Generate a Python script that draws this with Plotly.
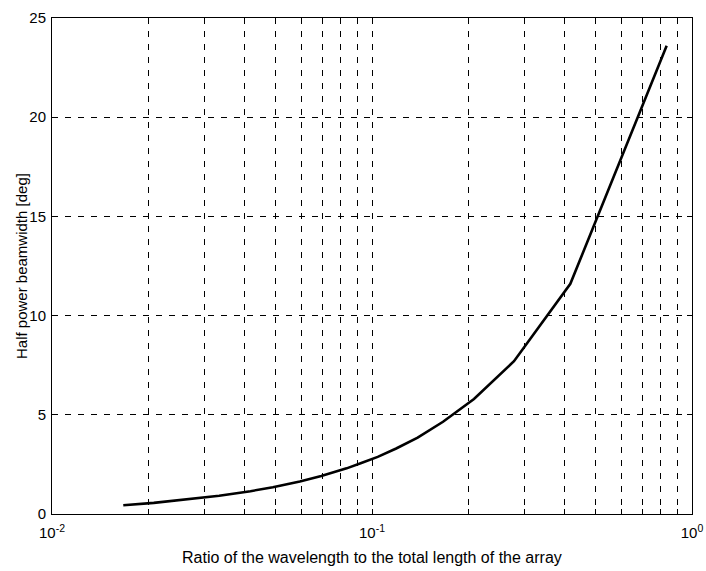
import plotly.graph_objects as go

# Ratio of wavelength to total array length (x) and half-power beamwidth in degrees (y)
ratio = [0.8333, 0.4167, 0.2778, 0.2083, 0.1667, 0.1389, 0.1190, 0.1042, 0.0926,
         0.0833, 0.0694, 0.0595, 0.0490, 0.0417, 0.0333, 0.0278, 0.0208, 0.0167]
beamwidth = [23.6, 11.6, 7.7, 5.8, 4.65, 3.85, 3.3, 2.88, 2.57,
             2.3, 1.92, 1.64, 1.35, 1.15, 0.92, 0.77, 0.56, 0.44]

decades = [0.01, 0.1, 1.0]
decade_labels = ["10<sup>-2</sup>", "10<sup>-1</sup>", "10<sup>0</sup>"]
y_ticks = [0, 5, 10, 15, 20, 25]

x_title = "Ratio of the wavelength to the total length of the array"
y_title = "Half power beamwidth [deg]"

x_tickvals = []
x_ticktext = []
for d, lab in zip(decades, decade_labels):
    for m in range(1, 10):
        v = d * m
        if v > 1.0001:
            break
        x_tickvals.append(v)
        x_ticktext.append(lab if m == 1 else "")

fig = go.Figure()
fig.add_trace(go.Scatter(x=ratio, y=beamwidth, mode="lines",
                         line=dict(color="black", width=2.6), showlegend=False))

font = dict(family="Liberation Sans, Arial, Helvetica, sans-serif", size=15, color="black")

fig.update_layout(
    width=706, height=571,
    margin=dict(l=52, r=14, t=18, b=57),
    paper_bgcolor="white", plot_bgcolor="white",
    font=font,
    xaxis=dict(type="log", range=[-2, 0], tickmode="array",
               tickvals=x_tickvals, ticktext=x_ticktext,
               showgrid=True, gridcolor="black", gridwidth=1, griddash="6px,7px",
               ticks="inside", ticklen=5, tickcolor="black",
               showline=True, linecolor="black", linewidth=1, mirror="ticks",
               zeroline=False, ticklabelstandoff=5, automargin=False),
    yaxis=dict(range=[0, 25], tickmode="array", tickvals=y_ticks,
               showgrid=True, gridcolor="black", gridwidth=1, griddash="6px,7px",
               ticks="inside", ticklen=5, tickcolor="black",
               showline=True, linecolor="black", linewidth=1, mirror="ticks",
               zeroline=False, ticklabelstandoff=2, automargin=False),
    annotations=[
        dict(text=x_title, xref="paper", yref="paper", x=0.5, y=-0.0887,
             xanchor="center", yanchor="middle", showarrow=False, font=dict(size=16)),
        dict(text=y_title, xref="paper", yref="paper", x=-0.0484, y=0.5,
             xanchor="center", yanchor="middle", textangle=-90, showarrow=False,
             font=dict(size=15)),
    ],
)

fig.write_html("out.html")
